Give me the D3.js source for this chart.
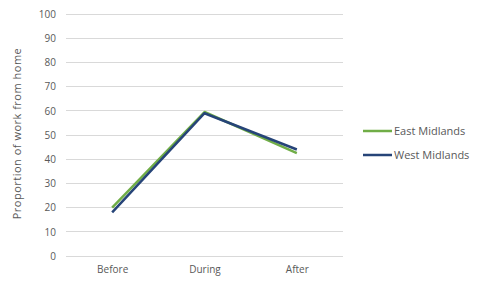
<!DOCTYPE html>
<html><head><meta charset="utf-8">
<script src="https://cdn.jsdelivr.net/npm/d3@7"></script>
<style>body{margin:0;background:#fff;} text{font-family:"Open Sans","Liberation Sans",sans-serif;}</style>
</head><body>
<svg id="c" width="480" height="288"></svg>
<script>
const categories = ["Before", "During", "After"];
const eastMidlands = [20, 59.5, 42.5];
const westMidlands = [18, 59, 44];
const seriesNames = ["East Midlands", "West Midlands"];
const seriesColors = ["#70AD47", "#264478"];
const yTicks = [0,10,20,30,40,50,60,70,80,90,100];
const yTitle = "Proportion of work from home";

const svg = d3.select("#c");
const m = {l:66, r:137, t:14, b:32};
const W = 480, H = 288;
const x = d3.scalePoint().domain(categories).range([m.l, W-m.r]).padding(0.5);
const y = d3.scaleLinear().domain([0,100]).range([H-m.b, m.t]);

svg.append("g").selectAll("line").data(yTicks).join("line")
  .attr("x1", m.l).attr("x2", W-m.r)
  .attr("y1", d=>y(d)).attr("y2", d=>y(d))
  .attr("stroke", "#d9d9d9").attr("stroke-width", 1).attr("shape-rendering","crispEdges");

const yAxis = d3.axisLeft(y).tickValues(yTicks).tickSize(0).tickPadding(10);
const gy = svg.append("g").attr("transform", `translate(${m.l},0)`).call(yAxis);
gy.select(".domain").remove();
gy.selectAll("text").attr("fill","#595959").style("font-size","10px");

const xAxis = d3.axisBottom(x).tickSize(0).tickPadding(10);
const gx = svg.append("g").attr("transform", `translate(0,${H-m.b})`).call(xAxis);
gx.select(".domain").remove();
gx.selectAll("text").attr("fill","#595959").style("font-size","10px");

svg.append("text").attr("transform", `translate(21,133.5) rotate(-90)`)
  .attr("text-anchor","middle").attr("fill","#595959").style("font-size","11px")
  .style("letter-spacing","0.5px").text(yTitle);

const data = [eastMidlands, westMidlands];
const line = d3.line().x((d,i)=>x(categories[i])).y(d=>y(d));
data.forEach((s,k)=>{
  svg.append("path").datum(s).attr("d", line).attr("fill","none")
    .attr("stroke", seriesColors[k]).attr("stroke-width", 2.5).attr("stroke-linejoin","round");
});

const lg = svg.append("g");
seriesNames.forEach((n,k)=>{
  const yy = 131 + k*24;
  lg.append("line").attr("x1",363).attr("x2",392).attr("y1",yy).attr("y2",yy)
    .attr("stroke", seriesColors[k]).attr("stroke-width",2.5);
  lg.append("text").attr("x",394).attr("y",yy).attr("dy","0.35em")
    .attr("fill","#595959").style("font-size","11px").text(n);
});
</script>
</body></html>
